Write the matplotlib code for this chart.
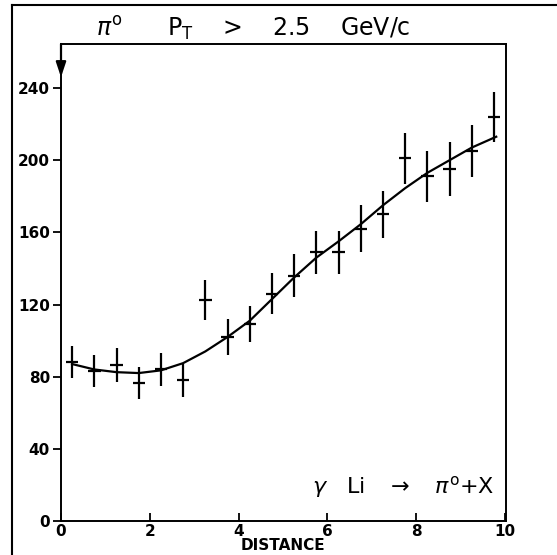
import matplotlib
matplotlib.use("Agg")
import matplotlib.pyplot as plt
from matplotlib.lines import Line2D

# ---- data ----
distance = [0.25, 0.75, 1.25, 1.75, 2.25, 2.75, 3.25, 3.75, 4.25, 4.75,
            5.25, 5.75, 6.25, 6.75, 7.25, 7.75, 8.25, 8.75, 9.25, 9.75]
counts = [88, 83, 86.5, 76.5, 84, 78, 122.5, 102, 109, 126,
          136, 149, 149, 162, 170, 201, 191, 195, 205, 224]
count_err = [9, 9, 9.5, 9, 9, 9, 11, 10, 10, 11.5,
             12, 12, 12, 13, 13, 14, 14, 15, 14.5, 14]

fit_x = [0.25, 0.75, 1.25, 1.75, 2.25, 2.75, 3.25, 3.75, 4.25, 4.75,
         5.25, 5.75, 6.25, 6.75, 7.25, 7.75, 8.25, 8.75, 9.25, 9.8]
fit_y = [87, 84, 82.5, 82, 83.5, 87.5, 94, 102, 111, 123,
         135, 146, 155, 164.5, 175, 184.5, 193, 200, 207, 213]

x_ticks = [0, 2, 4, 6, 8, 10]
y_ticks = [0, 40, 80, 120, 160, 200, 240]

title_text = r'$\pi^{\mathrm{o}}$      P$_{\mathrm{T}}$    >    2.5    GeV/c'
reaction_text = r'$\gamma$   Li   $\rightarrow$   $\pi^{\mathrm{o}}$+X'
x_label = 'DISTANCE'

plt.rcParams['mathtext.fontset'] = 'dejavusans'

W, H = 557, 555
fig = plt.figure(figsize=(W / 100, H / 100), dpi=100)
ax = fig.add_axes([61 / W, 1 - 521 / H, (506 - 61) / W, (521 - 44) / H])

ax.errorbar(distance, counts, yerr=count_err, xerr=0.14, fmt='none',
            ecolor='black', elinewidth=1.6, capsize=0)
ax.plot(fit_x, fit_y, color='black', lw=1.6)

ax.set_xlim(0, 10.02)
ax.set_ylim(0, 264.4)
ax.set_xticks(x_ticks)
ax.set_yticks(y_ticks)
ax.set_xticklabels([str(v) for v in x_ticks], fontsize=11, fontweight='bold')
ax.set_yticklabels([str(v) for v in y_ticks], fontsize=11, fontweight='bold')
ax.tick_params(axis='x', direction='in', length=6, width=1.3, pad=2)
ax.tick_params(axis='y', direction='out', length=6, width=1.3, pad=2)
for s in ax.spines.values():
    s.set_linewidth(1.4)

fig.text(283 / W, 1 - 545 / H, x_label, ha='center', va='center',
         fontsize=11, fontweight='bold')

ax.text(9.75, 19, reaction_text, ha='right', va='center', fontsize=16)

# downward arrow at the top of the y axis
ax.annotate('', xy=(0, 246), xytext=(0, 264.4),
            arrowprops=dict(arrowstyle='-|>,head_width=0.3,head_length=0.9',
                            color='black', lw=1.6, shrinkA=0, shrinkB=0))

fig.text(253 / W, 1 - 29 / H, title_text, ha='center', va='center', fontsize=17)

# outer frame (scan border)
fig.add_artist(Line2D([12 / W, 1.0], [1 - 5 / H, 1 - 5 / H], color='black', lw=1.5,
                      transform=fig.transFigure))
fig.add_artist(Line2D([12 / W, 12 / W], [0, 1 - 5 / H], color='black', lw=1.5,
                      transform=fig.transFigure))

fig.savefig('out.png', dpi=100)
